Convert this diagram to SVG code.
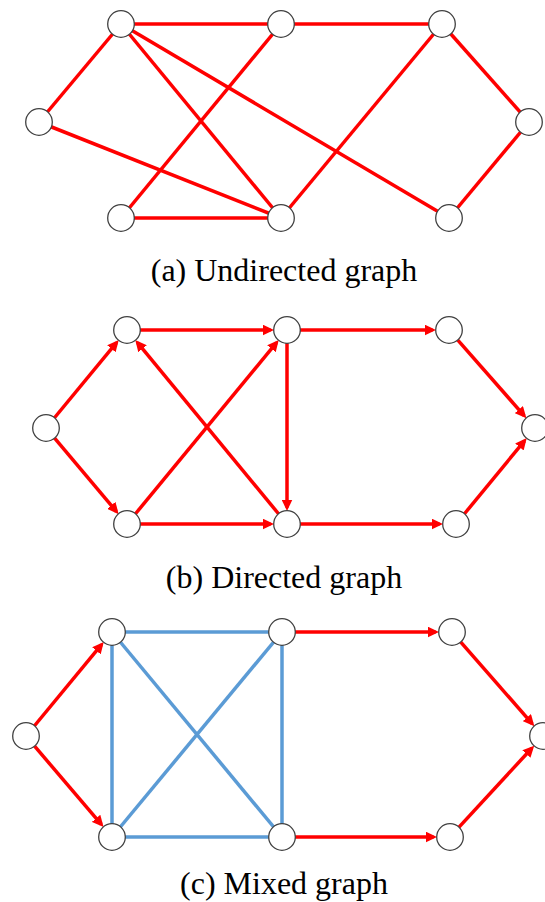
<svg xmlns="http://www.w3.org/2000/svg" width="545" height="902" viewBox="0 0 545 902">
<style>
.n{fill:#fff;stroke:#404040;stroke-width:1.3}
.r{stroke:#ff0000;stroke-width:3.5;fill:none}
.a{stroke:#ff0000;stroke-width:3.5;fill:none;marker-end:url(#arr)}
.b{stroke:#5b9bd5;stroke-width:3.5;fill:none}
.cap{font-family:"Liberation Serif","Times New Roman",serif;font-size:32px;fill:#000;text-anchor:middle}
</style>
<defs>
<marker id="arr" markerUnits="userSpaceOnUse" markerWidth="13" markerHeight="11" refX="8" refY="5.5" orient="auto">
<path d="M0,0 L11.5,5.5 L0,11 z" fill="#ff0000"/>
</marker>
</defs>
<g id="connectors">
<!-- (a) -->
<line class="r" x1="121" y1="24" x2="39" y2="122"/>
<line class="r" x1="39" y1="122" x2="281" y2="218"/>
<line class="r" x1="121" y1="24" x2="281" y2="24"/>
<line class="r" x1="121" y1="24" x2="281" y2="218"/>
<line class="r" x1="121" y1="24" x2="449" y2="218"/>
<line class="r" x1="121" y1="218" x2="281" y2="24"/>
<line class="r" x1="121" y1="218" x2="281" y2="218"/>
<line class="r" x1="281" y1="24" x2="442" y2="24"/>
<line class="r" x1="281" y1="218" x2="442" y2="24"/>
<line class="r" x1="442" y1="24" x2="529" y2="122"/>
<line class="r" x1="529" y1="122" x2="449" y2="218"/>
<!-- (b) -->
<line class="a" x1="54.3" y1="418" x2="116.5" y2="342.6"/>
<line class="a" x1="54.4" y1="437.9" x2="116.4" y2="511.5"/>
<line class="a" x1="140" y1="330" x2="270.5" y2="330"/>
<line class="a" x1="135.3" y1="514" x2="276.5" y2="342.6"/>
<line class="a" x1="278.7" y1="514" x2="137.5" y2="342.6"/>
<line class="a" x1="287" y1="343" x2="287" y2="507.5"/>
<line class="a" x1="140" y1="524" x2="270.5" y2="524"/>
<line class="a" x1="300" y1="330" x2="432.5" y2="330"/>
<line class="a" x1="300" y1="524" x2="439.5" y2="524"/>
<line class="a" x1="457.6" y1="339.8" x2="524.1" y2="415.6"/>
<line class="a" x1="464.3" y1="514" x2="524.5" y2="440.8"/>
<!-- (c) -->
<line class="b" x1="112" y1="632" x2="282" y2="632"/>
<line class="b" x1="112" y1="632" x2="112" y2="837"/>
<line class="b" x1="112" y1="837" x2="282" y2="837"/>
<line class="b" x1="282" y1="632" x2="282" y2="837"/>
<line class="b" x1="112" y1="632" x2="282" y2="837"/>
<line class="b" x1="282" y1="632" x2="112" y2="837"/>
<line class="a" x1="34.3" y1="726" x2="101.5" y2="644.7"/>
<line class="a" x1="34.4" y1="745.9" x2="101.3" y2="824.4"/>
<line class="a" x1="295" y1="632" x2="435.5" y2="632"/>
<line class="a" x1="295" y1="837" x2="433.5" y2="837"/>
<line class="a" x1="460.6" y1="641.8" x2="532.1" y2="723.6"/>
<line class="a" x1="458.8" y1="827.4" x2="531.8" y2="748.2"/>
</g>
<g id="a-nodes">
<g id="a1"><circle class="n" cx="121" cy="24" r="13.3"/></g>
<g id="a2"><circle class="n" cx="39" cy="122" r="13.3"/></g>
<g id="a3"><circle class="n" cx="121" cy="218" r="13.3"/></g>
<g id="a4"><circle class="n" cx="281" cy="24" r="13.3"/></g>
<g id="a5"><circle class="n" cx="281" cy="218" r="13.3"/></g>
<g id="a6"><circle class="n" cx="442" cy="24" r="13.3"/></g>
<g id="a7"><circle class="n" cx="529" cy="122" r="13.3"/></g>
<g id="a8"><circle class="n" cx="449" cy="218" r="13.3"/></g>
</g>
<g id="b-nodes">
<g id="b1"><circle class="n" cx="127" cy="330" r="13.3"/></g>
<g id="b2"><circle class="n" cx="46" cy="428" r="13.3"/></g>
<g id="b3"><circle class="n" cx="127" cy="524" r="13.3"/></g>
<g id="b4"><circle class="n" cx="287" cy="330" r="13.3"/></g>
<g id="b5"><circle class="n" cx="287" cy="524" r="13.3"/></g>
<g id="b6"><circle class="n" cx="449" cy="330" r="13.3"/></g>
<g id="b7"><circle class="n" cx="535" cy="428" r="13.3"/></g>
<g id="b8"><circle class="n" cx="456" cy="524" r="13.3"/></g>
</g>
<g id="c-nodes">
<g id="c1"><circle class="n" cx="112" cy="632" r="13.3"/></g>
<g id="c2"><circle class="n" cx="26" cy="736" r="13.3"/></g>
<g id="c3"><circle class="n" cx="112" cy="837" r="13.3"/></g>
<g id="c4"><circle class="n" cx="282" cy="632" r="13.3"/></g>
<g id="c5"><circle class="n" cx="282" cy="837" r="13.3"/></g>
<g id="c6"><circle class="n" cx="452" cy="632" r="13.3"/></g>
<g id="c7"><circle class="n" cx="543" cy="736" r="13.3"/></g>
<g id="c8"><circle class="n" cx="450" cy="837" r="13.3"/></g>
</g>
<g id="captions">
<text class="cap" x="284" y="281">(a) Undirected graph</text>
<text class="cap" x="284" y="588">(b) Directed graph</text>
<text class="cap" x="284" y="894">(c) Mixed graph</text>
</g>
</svg>
